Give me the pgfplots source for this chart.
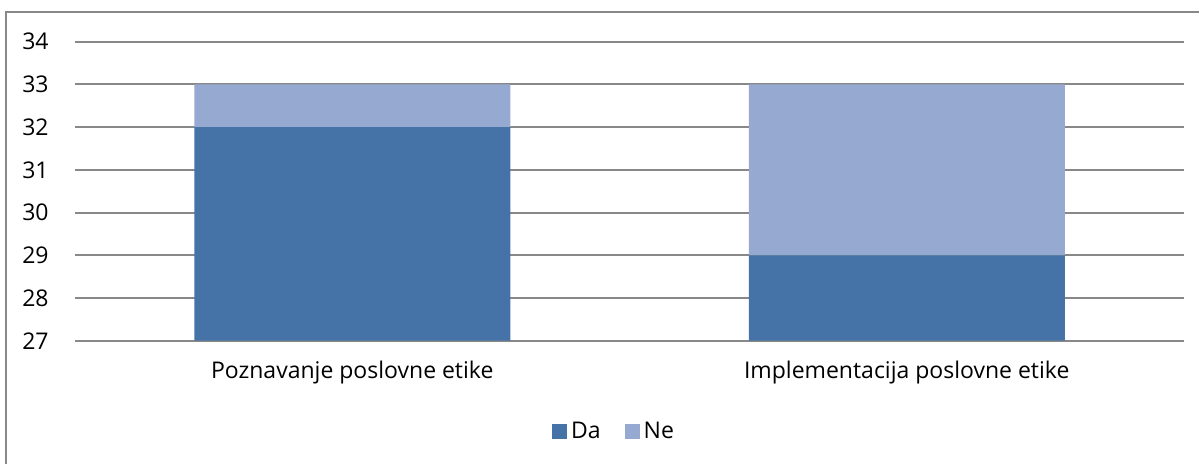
\documentclass[border=0pt]{standalone}
\usepackage{pgfplots}
\pgfplotsset{compat=1.18}
\usepackage{fontspec}
\setmainfont{Open Sans}

\definecolor{daBlue}{HTML}{4573A7}
\definecolor{neBlue}{HTML}{96A9D0}
\definecolor{gridGray}{HTML}{888888}

\begin{document}
\begin{tikzpicture}[x=1pt,y=1pt]
  % canvas and chart frame (top and left edges)
  \path[use as bounding box] (0,0) rectangle (599.5,232);
  \draw[gridGray, line width=1pt] (3,0) -- (3,226) -- (599.5,226);

  \begin{axis}[
    at={(37.5pt,61.65pt)}, anchor=south west,
    scale only axis,
    width=554.5pt, height=149.5pt,
    ybar stacked,
    bar width=158pt,
    xmin=-0.5, xmax=1.5,
    ymin=27, ymax=34,
    ytick={27,28,...,34},
    xtick=data,
    xticklabels={Poznavanje poslovne etike, Implementacija poslovne etike},
    axis line style={draw=none},
    ymajorgrids,
    grid style={gridGray, line width=1pt},
    major tick length=0pt,
    font=\fontsize{11.5}{13.8}\selectfont,
    /pgf/number format/assume math mode=true,
    yticklabel style={anchor=east, inner sep=0pt, xshift=-13pt},
    xticklabel style={anchor=center, inner sep=0pt, yshift=-16pt},
    legend style={at={(0.487,-0.305)}, anchor=center, draw=none,
      legend columns=2, inner sep=0pt,
      /tikz/every even column/.style={column sep=10pt},
      font=\fontsize{11.5}{13.8}\selectfont},
    legend image code/.code={\fill[#1] (0pt,-3.75pt) rectangle (7.5pt,3.75pt);},
  ]
    \addplot[fill=daBlue, draw=none] coordinates {(0,32) (1,29)};
    \addplot[fill=neBlue, draw=none] coordinates {(0,1) (1,4)};
    \legend{Da, Ne}
  \end{axis}
\end{tikzpicture}
\end{document}
